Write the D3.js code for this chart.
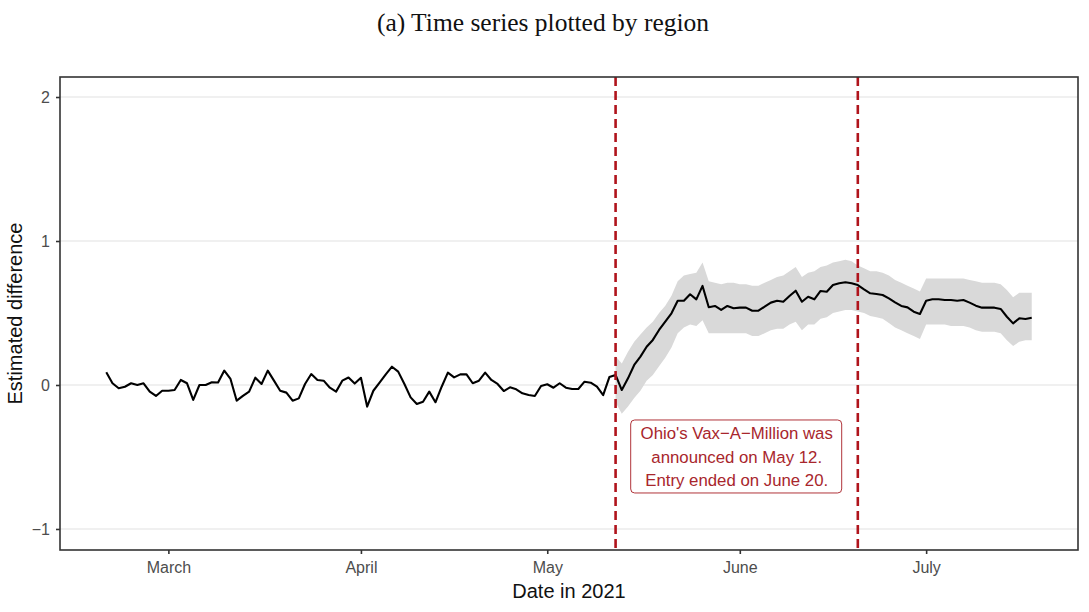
<!DOCTYPE html>
<html>
<head>
<meta charset="utf-8">
<script src="https://cdn.jsdelivr.net/npm/d3@7"></script>
<style>
  body { margin: 0; background: #fff; }
  svg text { font-family: "Liberation Sans", Arial, sans-serif; }
</style>
</head>
<body>
<div id="chart-area"></div>
<script>

const MARGIN = {
    LEFT: 60,
    RIGHT: 11,
    TOP: 77,
    BOTTOM: 62
}

const WIDTH = 1089 - MARGIN.LEFT - MARGIN.RIGHT;
const HEIGHT = 612 - MARGIN.BOTTOM - MARGIN.TOP;

// daily estimates, Feb 19 -> Jul 18 2021
const START_DATE = '2021-02-19';
const estimates = [
    0.088, 0.012, -0.023, -0.012, 0.012, 0.0, 0.012, -0.046, -0.076, -0.04,
    -0.04, -0.035, 0.035, 0.012, -0.104, 0.0, 0.0, 0.019, 0.017, 0.1,
    0.042, -0.109, -0.076, -0.046, 0.051, 0.007, 0.1, 0.03, -0.04, -0.053,
    -0.109, -0.093, 0.007, 0.076, 0.035, 0.03, -0.019, -0.046, 0.03, 0.052,
    0.01, 0.05, -0.15, -0.04, 0.016, 0.074, 0.127, 0.093, 0.007, -0.086,
    -0.132, -0.116, -0.046, -0.12, -0.012, 0.086, 0.053, 0.074, 0.074, 0.012,
    0.03, 0.086, 0.035, 0.007, -0.042, -0.016, -0.03, -0.058, -0.07, -0.076,
    -0.007, 0.005, -0.019, 0.012, -0.019, -0.028, -0.028, 0.023, 0.016, -0.012,
    -0.07, 0.055,
    // from May 12
    0.07, -0.035, 0.046, 0.139, 0.197, 0.266, 0.313, 0.382, 0.44, 0.498,
    0.585, 0.585, 0.63, 0.595, 0.688, 0.54, 0.549, 0.521, 0.549, 0.533,
    0.537, 0.537, 0.516, 0.516, 0.544, 0.572, 0.585, 0.578, 0.618, 0.655,
    0.578, 0.613, 0.595, 0.653, 0.648, 0.694, 0.706, 0.713, 0.706, 0.694,
    0.664, 0.637, 0.632, 0.625, 0.602, 0.574, 0.549, 0.539, 0.509, 0.493,
    0.585, 0.595, 0.595, 0.59, 0.59, 0.585, 0.59, 0.572, 0.551, 0.537,
    0.537, 0.537, 0.528, 0.474, 0.428, 0.463, 0.458, 0.467
]

// confidence band, only after the announcement (May 12 -> Jul 18)
const BAND_START = '2021-05-12';
const bandLower = [
    -0.12, -0.20, -0.15, -0.09, -0.04, 0.03, 0.07, 0.13, 0.19, 0.26,
    0.36, 0.40, 0.42, 0.41, 0.45, 0.36, 0.36, 0.36, 0.36, 0.36,
    0.36, 0.36, 0.34, 0.34, 0.36, 0.38, 0.39, 0.39, 0.42, 0.44,
    0.38, 0.42, 0.42, 0.46, 0.47, 0.50, 0.51, 0.52, 0.52, 0.51,
    0.50, 0.48, 0.47, 0.46, 0.43, 0.40, 0.38, 0.36, 0.34, 0.32,
    0.42, 0.42, 0.42, 0.42, 0.41, 0.41, 0.41, 0.40, 0.38, 0.37,
    0.37, 0.37, 0.36, 0.31, 0.27, 0.30, 0.31, 0.31
]
const bandUpper = [
    0.20, 0.15, 0.23, 0.30, 0.35, 0.40, 0.44, 0.50, 0.55, 0.62,
    0.72, 0.76, 0.77, 0.78, 0.85, 0.72, 0.71, 0.70, 0.71, 0.71,
    0.70, 0.70, 0.69, 0.69, 0.71, 0.73, 0.75, 0.76, 0.79, 0.82,
    0.75, 0.78, 0.79, 0.82, 0.83, 0.85, 0.86, 0.87, 0.86, 0.83,
    0.81, 0.79, 0.79, 0.78, 0.76, 0.73, 0.71, 0.69, 0.67, 0.65,
    0.74, 0.74, 0.74, 0.74, 0.74, 0.74, 0.74, 0.73, 0.72, 0.71,
    0.71, 0.71, 0.70, 0.66, 0.61, 0.64, 0.64, 0.64
]

const EVENT_DATES = ['2021-05-12', '2021-06-20'];
const MONTH_TICKS = ['2021-03-01', '2021-04-01', '2021-05-01', '2021-06-01', '2021-07-01'];
const Y_TICKS = [-1, 0, 1, 2];
const NOTE_LINES = ["Ohio's Vax\u2212A\u2212Million was", 'announced on May 12.', 'Entry ended on June 20.'];
const NOTE_Y = -0.5;

const parse = d3.utcParse('%Y-%m-%d');
const start = parse(START_DATE);
const bandStart = parse(BAND_START);

const series = estimates.map((v, i) => ({ date: d3.utcDay.offset(start, i), value: v }));
const band = bandLower.map((lo, i) => ({ date: d3.utcDay.offset(bandStart, i), lo: lo, hi: bandUpper[i] }));

const svg = d3.select('#chart-area').append('svg')
        .attr('width', 1089)
        .attr('height', 612)

// title
svg.append('text')
    .attr('x', 543)
    .attr('y', 31)
    .attr('text-anchor', 'middle')
    .style('font-family', '"Liberation Serif", "DejaVu Serif", serif')
    .style('font-size', '25.5px')
    .attr('fill', '#111')
    .text('(a) Time series plotted by region')

const g = svg.append('g')
    .attr('transform', `translate(${MARGIN.LEFT}, ${MARGIN.TOP})`)

// ggplot-ish 5% expansion on dates
const ext = d3.extent(series, d => d.date);
const pad = (ext[1] - ext[0]) * 0.05;

const x = d3.scaleUtc()
    .domain([new Date(+ext[0] - pad), new Date(+ext[1] + pad)])
    .range([0, WIDTH])

const y = d3.scaleLinear()
    .domain([-1.146, 2.139])
    .range([HEIGHT, 0])

// horizontal grid
g.selectAll('.grid')
    .data(Y_TICKS)
    .enter().append('line')
    .attr('x1', 0)
    .attr('x2', WIDTH)
    .attr('y1', d => y(d))
    .attr('y2', d => y(d))
    .attr('stroke', '#ebebeb')
    .attr('stroke-width', 1.6)

// band
g.append('path')
    .datum(band)
    .attr('fill', '#d9d9d9')
    .attr('d', d3.area()
        .x(d => x(d.date))
        .y0(d => y(d.lo))
        .y1(d => y(d.hi)))

// estimate line
g.append('path')
    .datum(series)
    .attr('fill', 'none')
    .attr('stroke', '#000')
    .attr('stroke-width', 2.1)
    .attr('stroke-linejoin', 'round')
    .attr('d', d3.line()
        .x(d => x(d.date))
        .y(d => y(d.value)))

// event lines
g.selectAll('.event')
    .data(EVENT_DATES.map(parse))
    .enter().append('line')
    .attr('x1', d => x(d))
    .attr('x2', d => x(d))
    .attr('y1', 0)
    .attr('y2', HEIGHT)
    .attr('stroke', '#b0141c')
    .attr('stroke-width', 2.6)
    .attr('stroke-dasharray', '9,5')

// note label
const evs = EVENT_DATES.map(parse);
const noteX = x(new Date((+evs[0] + +evs[1]) / 2));
const noteY = y(NOTE_Y);
const note = g.append('g').attr('transform', `translate(${noteX}, ${noteY})`)

note.append('rect')
    .attr('x', -106)
    .attr('y', -37)
    .attr('width', 211)
    .attr('height', 73)
    .attr('rx', 4)
    .attr('fill', '#fff')
    .attr('stroke', '#b0343a')
    .attr('stroke-width', 1)

note.selectAll('text')
    .data(NOTE_LINES)
    .enter().append('text')
    .attr('x', 0)
    .attr('y', (d, i) => (i - 1) * 23.5 + 6)
    .attr('text-anchor', 'middle')
    .attr('fill', '#a8262c')
    .style('font-size', '16.8px')
    .text(d => d)

// panel border
g.append('rect')
    .attr('width', WIDTH)
    .attr('height', HEIGHT)
    .attr('fill', 'none')
    .attr('stroke', '#333')
    .attr('stroke-width', 1.6)

// axes
const xAxisCall = d3.axisBottom(x)
    .tickValues(MONTH_TICKS.map(parse))
    .tickFormat(d3.utcFormat('%B'))
    .tickSizeOuter(0)
    .tickSize(4)
    .tickPadding(8)

const xAxis = g.append('g')
    .attr('class', 'x axis')
    .attr('transform', `translate(0, ${HEIGHT})`)
    .call(xAxisCall)
xAxis.select('.domain').remove()
xAxis.selectAll('line').attr('stroke', '#333').attr('stroke-width', 1.6)
xAxis.selectAll('text').attr('fill', '#4d4d4d').style('font-size', '16px')

const yAxisCall = d3.axisLeft(y)
    .tickValues(Y_TICKS)
    .tickFormat(d => d < 0 ? '\u2212' + Math.abs(d) : d)
    .tickSizeOuter(0)
    .tickSize(4)
    .tickPadding(6)

const yAxis = g.append('g')
    .attr('class', 'y axis')
    .call(yAxisCall)
yAxis.select('.domain').remove()
yAxis.selectAll('line').attr('stroke', '#333').attr('stroke-width', 1.6)
yAxis.selectAll('text').attr('fill', '#4d4d4d').style('font-size', '16px')

// axis titles
svg.append('text')
    .attr('x', MARGIN.LEFT + WIDTH / 2)
    .attr('y', 598)
    .attr('text-anchor', 'middle')
    .attr('fill', '#111')
    .style('font-size', '20px')
    .text('Date in 2021')

svg.append('text')
    .attr('transform', `translate(22, ${MARGIN.TOP + HEIGHT / 2}) rotate(-90)`)
    .attr('text-anchor', 'middle')
    .attr('fill', '#111')
    .style('font-size', '20px')
    .text('Estimated difference')

</script>
</body>
</html>
